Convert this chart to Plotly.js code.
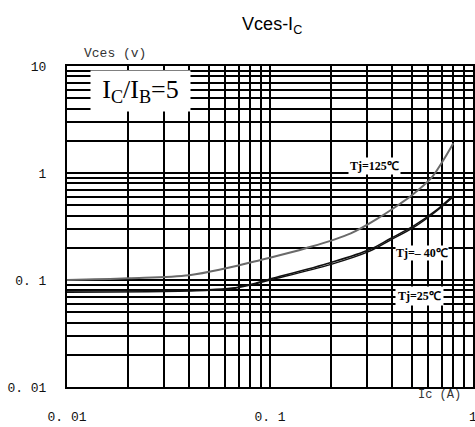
<!DOCTYPE html>
<html>
<head>
<meta charset="utf-8">
<script src="https://cdn.plot.ly/plotly-3.0.1.min.js"></script>
<style>
  html, body { margin: 0; padding: 0; background: #fff; }
  #chart { width: 475px; height: 427px; }
</style>
</head>
<body>
<div id="chart"></div>
<script>
// collector current Ic (A) and saturation voltage Vces (V)
var ic_125 = [0.01, 0.02, 0.04, 0.06, 0.09, 0.15, 0.25, 0.35, 0.44, 0.5, 0.62, 0.7, 0.8];
var vces_125 = [0.1, 0.104, 0.111, 0.128, 0.154, 0.198, 0.273, 0.39, 0.52, 0.62, 0.89, 1.24, 1.9];

var ic_25 = [0.01, 0.03, 0.05, 0.065, 0.08, 0.1, 0.2, 0.31, 0.39, 0.51, 0.65, 0.8];
var vces_25 = [0.077, 0.078, 0.08, 0.083, 0.09, 0.1, 0.14, 0.186, 0.235, 0.31, 0.43, 0.6];

var ic_m40 = [0.01, 0.03, 0.05, 0.065, 0.08, 0.1, 0.2, 0.31, 0.39, 0.51, 0.65, 0.8];
var vces_m40 = [0.079, 0.08, 0.081, 0.084, 0.091, 0.102, 0.146, 0.193, 0.243, 0.32, 0.44, 0.62];

var xTickVals = [0.01, 0.1, 1];
var xTickText = ['0. 01', '0. 1', '1'];
var yTickVals = [0.01, 0.1, 1, 10];
var yTickText = ['0. 01', '0. 1', '1', '10'];

var labelFont = {family: 'Liberation Serif, serif', size: 12, color: '#000'};
var monoFont = {family: 'Liberation Mono, monospace', size: 13, color: '#111'};

var traces = [
  {x: ic_125, y: vces_125, name: 'Tj=125', type: 'scatter', mode: 'lines',
   line: {color: '#6a6a6a', width: 2, shape: 'spline'}},
  {x: ic_m40, y: vces_m40, name: 'Tj=-40', type: 'scatter', mode: 'lines',
   line: {color: '#111', width: 1.5, shape: 'spline'}},
  {x: ic_25, y: vces_25, name: 'Tj=25', type: 'scatter', mode: 'lines',
   line: {color: '#111', width: 1.5, shape: 'spline'}}
];

var layout = {
  width: 475,
  height: 427,
  margin: {l: 67, r: 2, t: 66, b: 40},
  paper_bgcolor: '#fff',
  plot_bgcolor: '#fff',
  showlegend: false,
  title: {
    text: 'Vces-I<sub>C</sub>',
    font: {family: 'Liberation Sans, Arial, sans-serif', size: 18, color: '#000'},
    xref: 'container', yref: 'container',
    x: 0.573, xanchor: 'center',
    y: 0.944, yanchor: 'middle'
  },
  xaxis: {
    type: 'log',
    range: [-2, 0],
    tickmode: 'array',
    tickvals: xTickVals,
    ticktext: xTickText,
    tickfont: monoFont,
    ticks: '',
    ticklabelstandoff: 16,
    ticklabeloverflow: 'allow',
    showgrid: true,
    gridcolor: '#000',
    gridwidth: 2,
    minor: {dtick: 'D1', showgrid: true, gridcolor: '#000', gridwidth: 2},
    showline: true,
    linecolor: '#000',
    linewidth: 2,
    mirror: true,
    zeroline: false
  },
  yaxis: {
    type: 'log',
    range: [-2, 1],
    tickmode: 'array',
    tickvals: yTickVals,
    ticktext: yTickText,
    tickfont: monoFont,
    ticks: '',
    ticklabelstandoff: 16,
    showgrid: true,
    gridcolor: '#000',
    gridwidth: 2,
    minor: {dtick: 'D1', showgrid: true, gridcolor: '#000', gridwidth: 2},
    showline: true,
    linecolor: '#000',
    linewidth: 2,
    mirror: true,
    zeroline: false
  },
  annotations: [
    {text: 'I<sub>C</sub>/I<sub>B</sub>=5', xref: 'paper', yref: 'paper',
     x: 0.057, y: 0.987, xanchor: 'left', yanchor: 'top', showarrow: false,
     width: 97, height: 38, bgcolor: '#fff', borderpad: 1,
     font: {family: 'Liberation Serif, serif', size: 26, color: '#000'}},
    {text: '<b>Tj=125℃</b>', xref: 'paper', yref: 'paper',
     x: 0.758, y: 0.69, xanchor: 'center', yanchor: 'middle', showarrow: false,
     bgcolor: '#fff', borderpad: 1, font: labelFont},
    {text: '<b>Tj=– 40℃</b>', xref: 'paper', yref: 'paper',
     x: 0.874, y: 0.419, xanchor: 'center', yanchor: 'middle', showarrow: false,
     bgcolor: '#fff', borderpad: 0, font: labelFont},
    {text: '<b>Tj=25℃</b>', xref: 'paper', yref: 'paper',
     x: 0.869, y: 0.282, xanchor: 'center', yanchor: 'middle', showarrow: false,
     bgcolor: '#fff', borderpad: 2, font: labelFont},
    {text: 'Vces (v)', xref: 'paper', yref: 'paper',
     x: 0.038, y: 1.04, xanchor: 'left', yanchor: 'middle', showarrow: false,
     font: {family: 'Liberation Mono, monospace', size: 13, color: '#333'}},
    {text: 'Ic (A)', xref: 'paper', yref: 'paper',
     x: 0.975, y: -0.025, xanchor: 'right', yanchor: 'middle', showarrow: false,
     font: {family: 'Liberation Mono, monospace', size: 12, color: '#333'}}
  ]
};

Plotly.newPlot('chart', traces, layout, {displayModeBar: false, staticPlot: true});
</script>
</body>
</html>
